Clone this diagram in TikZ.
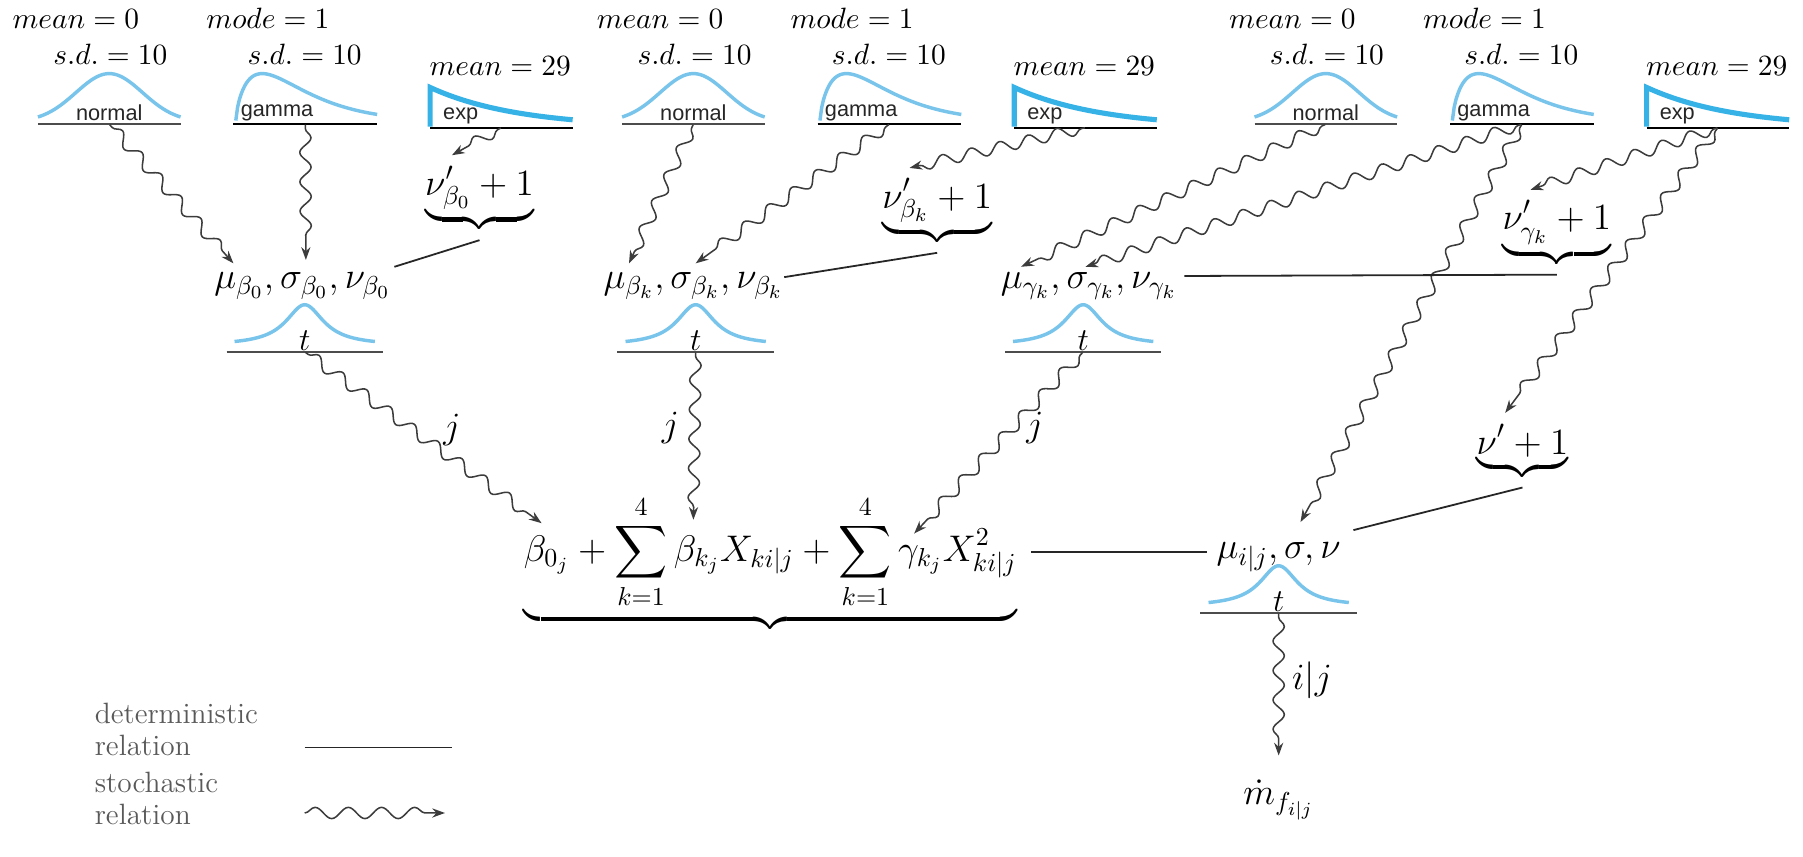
\RequirePackage{fix-cm}
\documentclass[tikz,border=0pt]{standalone}
\usepackage{amsmath}
\usepackage{fontspec}
\newfontfamily\distfont{Liberation Sans}
\usetikzlibrary{decorations.pathmorphing,arrows.meta}
\definecolor{curveblue}{RGB}{120,196,235}
\definecolor{expblue}{RGB}{55,178,230}
\definecolor{wavecol}{RGB}{60,60,60}
\tikzset{
 toplab/.style={font=\fontsize{11.5}{13.8}\selectfont,inner sep=0pt},
 mlab/.style={font=\fontsize{14.5}{17.4}\selectfont,inner sep=1pt},
 brlab/.style={font=\fontsize{14.5}{17.4}\selectfont,inner xsep=1pt,inner ysep=4pt},
 tlab/.style={font=\fontsize{12.5}{15}\selectfont,inner sep=0pt},
 distlab/.style={font=\distfont\fontsize{8.5}{10}\selectfont,inner sep=0pt,text=black!85},
 icbase/.style={draw=black!70,line width=0.9pt},
 icurve/.style={draw=curveblue,line width=1.35pt},
 expline/.style={draw=expblue,line width=2pt},
 anchorpt/.style={inner sep=0pt,minimum size=0pt},
 wavy/.style={draw=wavecol,line width=0.6pt,-{Stealth[length=5pt,width=3.6pt]},decorate,decoration={snake,amplitude=2.2pt,segment length=11.5pt,pre length=1.5pt,post length=4pt}},
 legwavy/.style={draw=wavecol,line width=0.6pt,-{Stealth[length=5pt,width=3.6pt]},decorate,decoration={snake,amplitude=2.2pt,segment length=13pt,post length=4pt}},
 det/.style={draw=black!85,line width=0.7pt},
 legtext/.style={font=\fontsize{11.5}{12.4}\selectfont,text=black!65,align=left,inner sep=0pt}
}
\newcommand\drawNormal[3]{%
 \begin{scope}[shift={(#1,#2)}]
  \draw[icbase] (-62,0) -- (62,0);
  \draw[icurve] plot[domain=-62:62,samples=61] (\x,{-2-42*exp(-(\x*\x)/1682)});
  \node[distlab] (#3lab) at (0,-10) {normal};
  \node[anchorpt] (#3) at (0,0) {};
 \end{scope}}
\newcommand\drawGamma[3]{%
 \begin{scope}[shift={(#1,#2)}]
  \draw[icbase,draw=black] (0,0) -- (125,0);
  \draw[icurve] plot[domain=0.05:123,samples=80] ({2+\x},{-2-42*((\x/23)^0.7)*exp((23-\x)/32.9)});
  \node[distlab,anchor=west] (#3lab) at (6,-10) {gamma};
  \node[anchorpt] (#3) at (62.5,0) {};
 \end{scope}}
\newcommand\drawExp[3]{%
 \begin{scope}[shift={(#1,#2)}]
  \draw[icbase,draw=black] (0,0) -- (124,0);
  \draw[expline] (0,-1) -- plot[domain=0:124,samples=40] (\x,{-35*exp(-\x/76)});
  \node[distlab,anchor=west] (#3lab) at (11,-10) {exp};
  \node[anchorpt] (#3) at (62,0) {};
 \end{scope}}
\newcommand\drawT[3]{%
 \begin{scope}[shift={(#1,#2)}]
  \draw[icbase] (-68,0) -- (68,0);
  \draw[icurve] plot[domain=-61:61,samples=81] (\x,{-5.6-35.4/(1+(\x*\x)/400)});
  \node[tlab] (#3lab) at (0,-10) {$t$};
  \node[anchorpt] (#3) at (0,0) {};
 \end{scope}}
\begin{document}
\begin{tikzpicture}[x=0.45pt,y=-0.45pt]
\useasboundingbox (0,0) rectangle (1568,745);
% top row
\foreach \dx/\g in {0/a,508/b,1058/c}{
  \node[toplab,anchor=base] (mean0\g) at (66+\dx,25) {$mean = 0$};
  \node[toplab,anchor=base] (sdn\g) at (96+\dx,56) {$s.d. = 10$};
  \node[toplab,anchor=base] (mode\g) at (233+\dx,25) {$mode = 1$};
  \node[toplab,anchor=base] (sdg\g) at (265+\dx,56) {$s.d. = 10$};
  \node[toplab,anchor=base] (mexp\g) at (435+\dx,66) {$mean = 29$};
  \drawNormal{95+\dx}{108}{norm\g}
  \drawGamma{203+\dx}{108}{gam\g}
  \drawExp{374+\dx}{111}{exp\g}
}
% middle row
\node[mlab,anchor=base] (p1) at (263,251) {$\mu_{\beta_0},\sigma_{\beta_0},\nu_{\beta_0}$};
\node[mlab,anchor=base] (p2) at (603,251) {$\mu_{\beta_k},\sigma_{\beta_k},\nu_{\beta_k}$};
\node[mlab,anchor=base] (p3) at (947,251) {$\mu_{\gamma_k},\sigma_{\gamma_k},\nu_{\gamma_k}$};
\drawT{265}{306}{t1}
\drawT{605}{306}{t2}
\drawT{942}{306}{t3}
\node[brlab,anchor=base] (nu1) at (417,170) {$\underbrace{\nu'_{\beta_0}+1}$};
\node[brlab,anchor=base] (nu2) at (815,181) {$\underbrace{\nu'_{\beta_k}+1}$};
\node[brlab,anchor=base] (nu3) at (1354,200) {$\underbrace{\nu'_{\gamma_k}+1}$};
\node[brlab,anchor=base] (nu4) at (1324,395) {$\underbrace{\nu'+1}$};
% bottom
\node[mlab,anchor=base] (eq) at (670,488) {$\displaystyle\underbrace{\beta_{0_j}+\sum_{k=1}^{4}\beta_{k_j}X_{ki|j}+\sum_{k=1}^{4}\gamma_{k_j}X_{ki|j}^{2}}$};
\node[mlab,anchor=base] (mu) at (1112,486) {$\mu_{i|j},\sigma,\nu$};
\drawT{1112}{533}{t4}
\node[mlab,anchor=base] (md) at (1112,700) {$\dot{m}_{f_{i|j}}$};
\node[mlab] (lj1) at (393,374) {$j$};
\node[mlab] (lj2) at (583,372) {$j$};
\node[mlab] (lj3) at (900,372) {$j$};
\node[mlab,anchor=base] (lij) at (1141,600) {$i|j$};
% stochastic relations
\draw[wavy] ([shift={(0,7)}]norma) -- ([shift={(-60,-22)}]p1.base);
\draw[wavy] ([shift={(0,7)}]gama) -- ([shift={(3,-25)}]p1.base);
\draw[wavy] ([shift={(-2,7)}]expa) -- ([shift={(-24,-35)}]nu1.base);
\draw[wavy] ([shift={(0,7)}]normb) -- ([shift={(-56,-22)}]p2.base);
\draw[wavy] ([shift={(0,7)}]gamb) -- ([shift={(2,-22)}]p2.base);
\draw[wavy] ([shift={(0,7)}]expb) -- ([shift={(-24,-35)}]nu2.base);
\draw[wavy] ([shift={(0,7)}]normc) -- ([shift={(-59,-19)}]p3.base);
\draw[wavy] ([shift={(-2,8)}]gamc) -- ([shift={(-3,-19)}]p3.base);
\draw[wavy] ([shift={(-2,8)}]gamc) -- ([shift={(19,-32)}]mu.base);
\draw[wavy] ([shift={(-3,7)}]expc) -- ([shift={(-23,-35)}]nu3.base);
\draw[wavy] ([shift={(-3,7)}]expc) -- ([shift={(-15,-36)}]nu4.base);
\draw[wavy] ([shift={(0,11)}]t1) -- ([shift={(-199,-33)}]eq.base);
\draw[wavy] ([shift={(0,12)}]t2) -- ([shift={(-67,-36)}]eq.base);
\draw[wavy] ([shift={(-2,12)}]t3) -- ([shift={(125,-24)}]eq.base);
\draw[wavy] ([shift={(0,13)}]t4) -- ([shift={(0,-43)}]md.base);
% deterministic relations
\draw[det] (nu1.south) -- ([shift={(80,-19)}]p1.base);
\draw[det] (nu2.south) -- ([shift={(79,-10)}]p2.base);
\draw[det] (nu3.south) -- ([shift={(83,-11)}]p3.base);
\draw[det] (nu4.south) -- ([shift={(65,-25)}]mu.base);
\draw[det] ([shift={(10,-8)}]eq.base east) -- ([shift={(-6,-6)}]mu.base west);
% legend
\node[legtext,anchor=base west] (leg1) at (82,657) {deterministic\\relation};
\node[legtext,anchor=base west] (leg2) at (82,717) {stochastic\\relation};
\coordinate (l1a) at (265,650);
\coordinate (l1b) at (393,650);
\coordinate (l2a) at (265,707);
\coordinate (l2b) at (387,707);
\draw[det] (l1a) -- (l1b);
\draw[legwavy] (l2a) -- (l2b);
\end{tikzpicture}
\end{document}
